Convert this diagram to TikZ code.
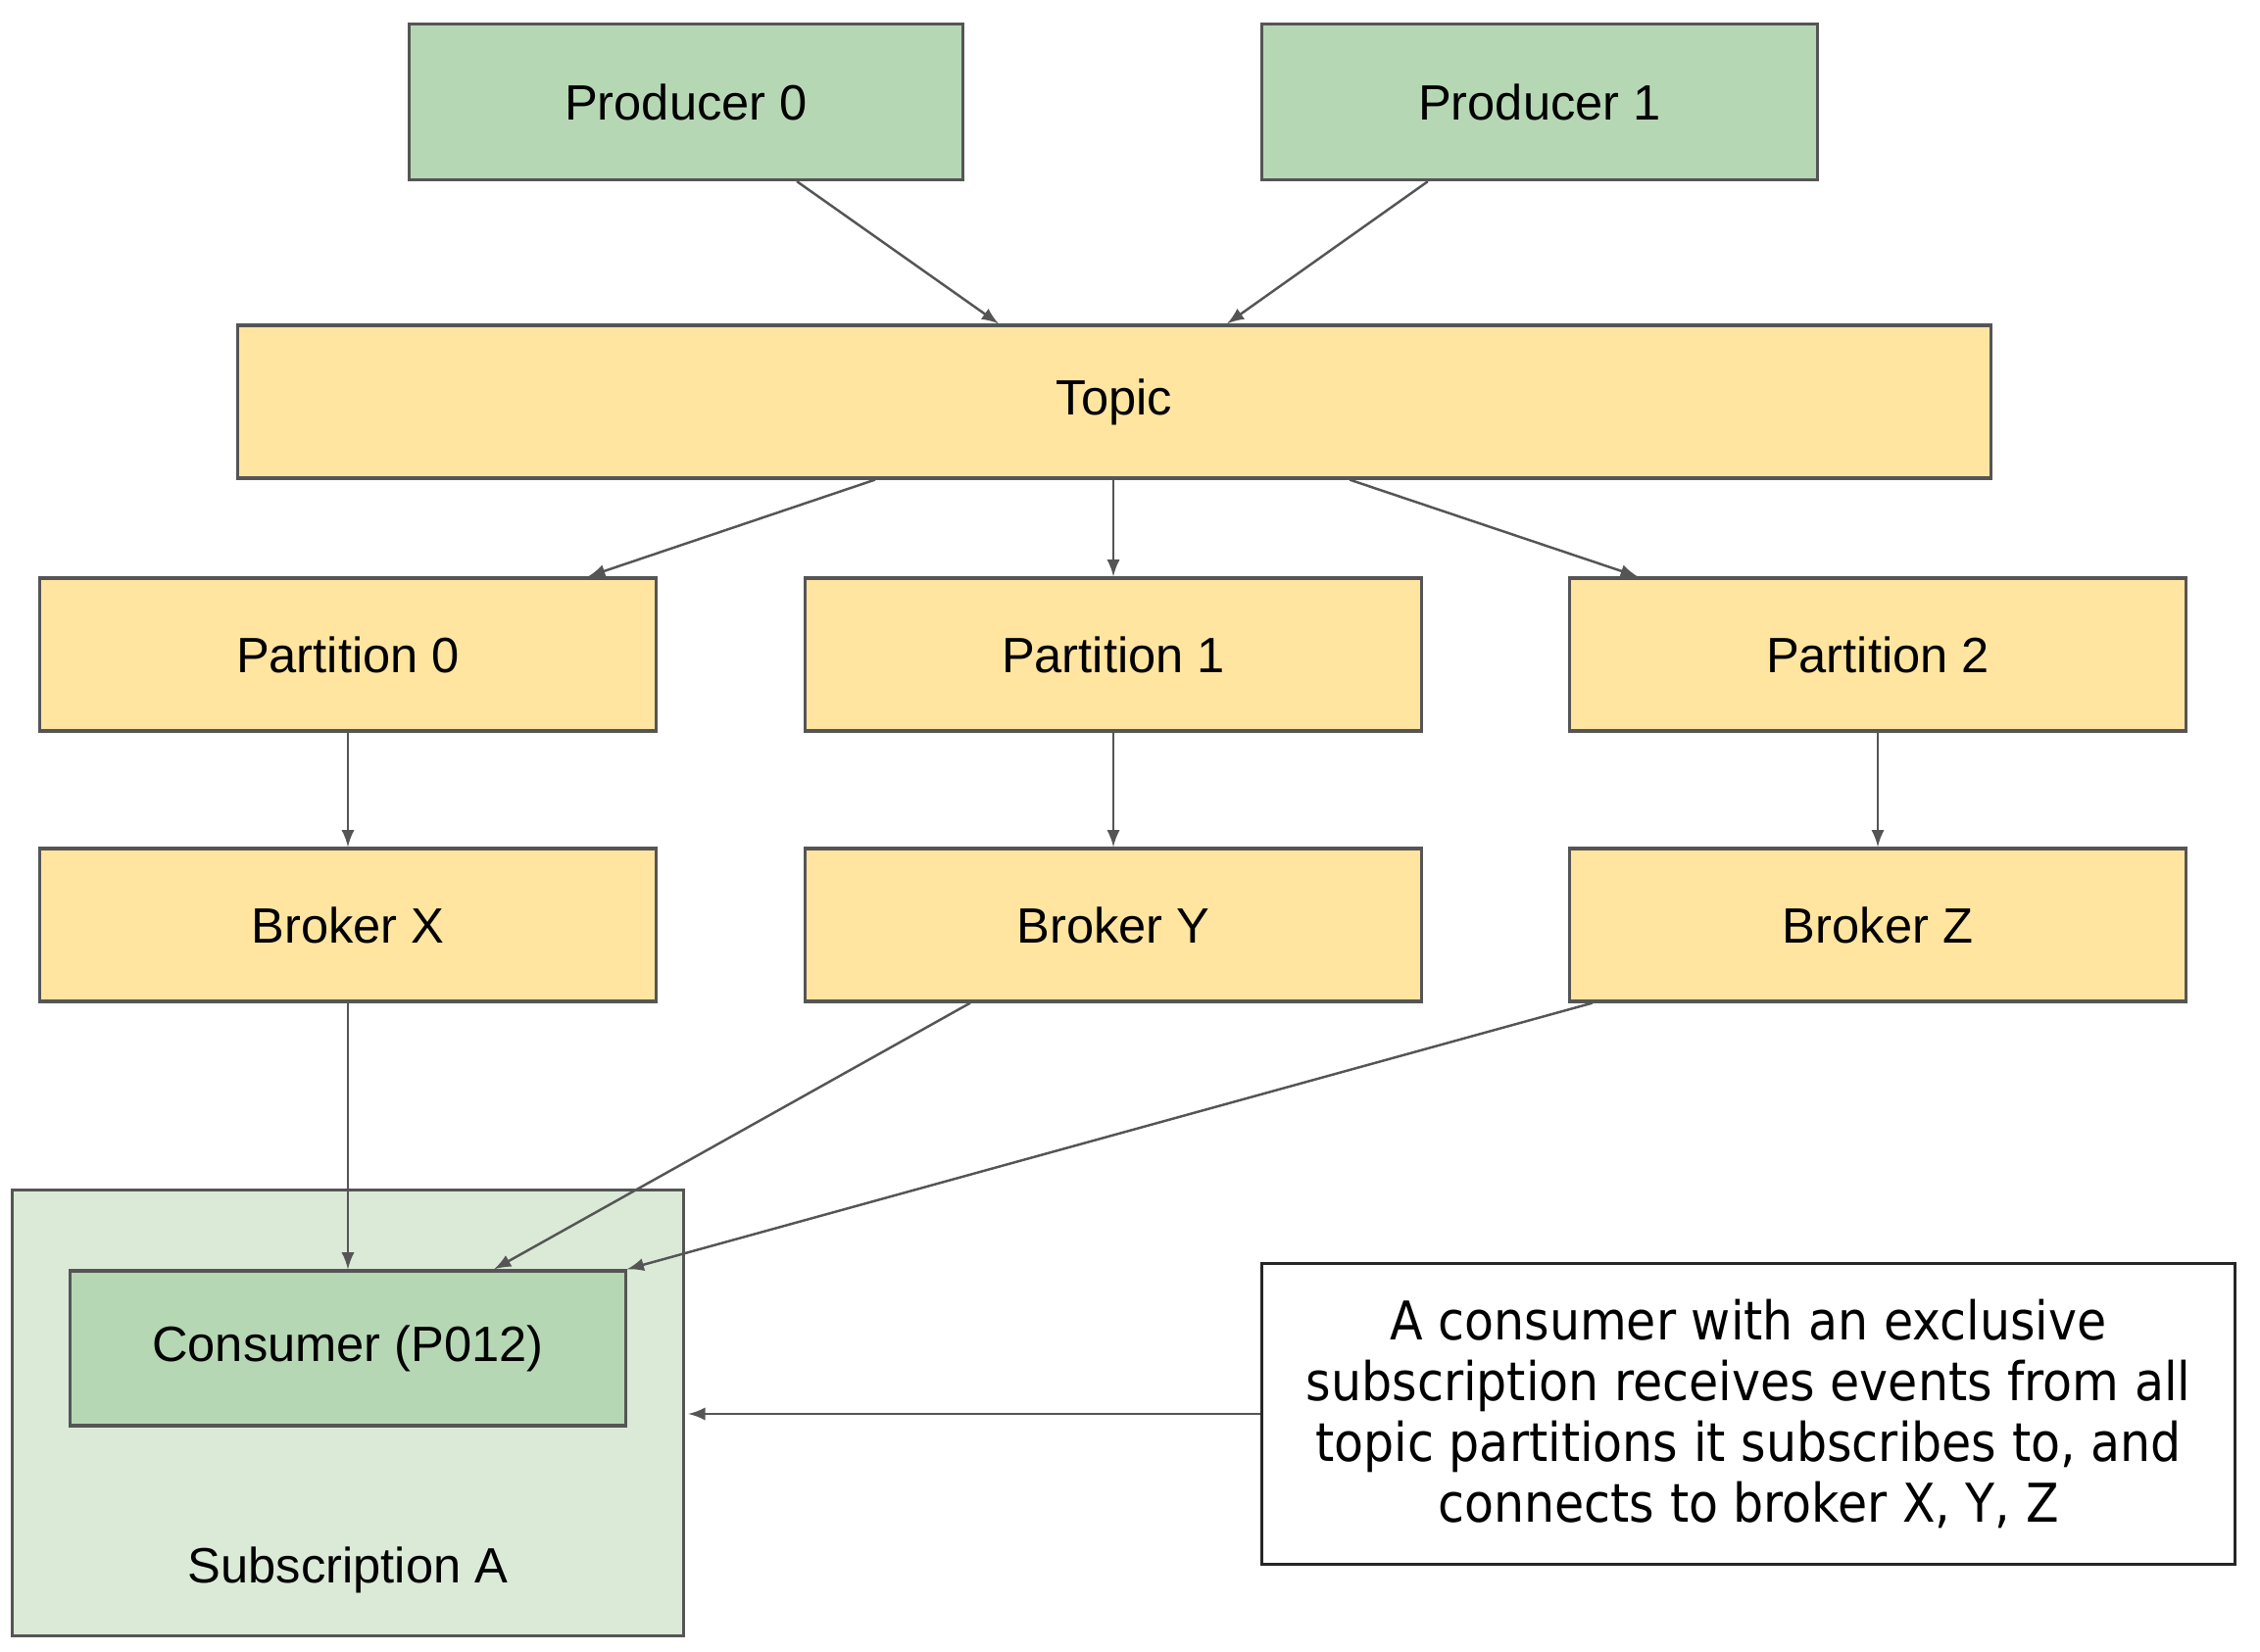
\documentclass[tikz,border=0pt]{standalone}
\usepackage{xcolor}
\usepackage{fontspec}
\setmainfont{Liberation Sans}
\newfontfamily\notefont{DejaVu Sans Condensed}
\usepackage{tikz}
\usetikzlibrary{arrows}

\definecolor{prodgreen}{HTML}{B6D7B4}
\definecolor{subgreen}{HTML}{DAEAD6}
\definecolor{kafkayellow}{HTML}{FFE5A0}
\definecolor{edgegray}{HTML}{555555}

\tikzset{
  box/.style={draw=edgegray,line width=0.9pt,minimum height=1.56cm,
    font=\fontsize{14.4}{17}\selectfont,inner sep=0pt},
  greenbox/.style={box,fill=prodgreen},
  yellowbox/.style={box,fill=kafkayellow,minimum width=6.28cm},
  conn/.style={draw=edgegray,line width=0.7pt,-latex}
}

\begin{document}
\begin{tikzpicture}[x=0.01cm,y=-0.01cm]
    \useasboundingbox (0,0) rectangle (2306,1686);
    \node[greenbox,minimum width=5.64cm,minimum height=1.59cm](prod0) at (700,104){Producer 0};
    \node[greenbox,minimum width=5.66cm,minimum height=1.59cm](prod1) at (1571,104){Producer 1};
    \node[yellowbox,minimum width=17.88cm](topic) at (1137,410){Topic};
    \node[yellowbox](part0) at (355,668){Partition 0};
    \node[yellowbox](part1) at (1136,668){Partition 1};
    \node[yellowbox](part2) at (1916,668){Partition 2};
    \node[yellowbox](brkx) at (355,944){Broker X};
    \node[yellowbox](brky) at (1136,944){Broker Y};
    \node[yellowbox](brkz) at (1916,944){Broker Z};
    \node[box,fill=subgreen,minimum width=6.84cm,minimum height=4.54cm](suba) at (355,1442){};
    \node[font=\fontsize{14.4}{17}\selectfont](subname) at (355,1602){Subscription A};
    \node[greenbox,minimum width=5.66cm,minimum height=1.58cm](cons) at (355,1376){Consumer (P012)};
    \node[draw=black!85,line width=0.9pt,minimum width=9.93cm,minimum height=3.06cm,align=center,
      font=\notefont\fontsize{15.5}{17.6}\selectfont](note) at (1784,1443)
      {A consumer with an exclusive\\subscription receives events from all\\topic partitions it subscribes to, and\\connects to broker X, Y, Z};

    % producers into the topic
    \draw[conn] ([xshift=1.13cm]prod0.south) -- ([xshift=-1.18cm]topic.north);
    \draw[conn] ([xshift=-1.14cm]prod1.south) -- ([xshift=1.15cm]topic.north);
    % topic split into partitions
    \draw[conn] ([xshift=-2.44cm]topic.south) -- ([xshift=2.45cm]part0.north);
    \draw[conn] (topic.south -| part1.north) -- (part1.north);
    \draw[conn] ([xshift=2.40cm]topic.south) -- ([xshift=-2.45cm]part2.north);
    \foreach \p/\b in {part0/brkx,part1/brky,part2/brkz}
      \draw[conn] (\p.south) -- (\b.north);
    % brokers to the consumer
    \draw[conn] (brkx.south) -- (cons.north);
    \draw[conn] ([xshift=-1.46cm]brky.south) -- ([xshift=1.49cm]cons.north);
    \draw[conn] ([xshift=-2.91cm]brkz.south) -- (cons.north east);
    \draw[conn,shorten >=1pt] (note.west) -- (note.west -| suba.east);
  \end{tikzpicture}
\end{document}
